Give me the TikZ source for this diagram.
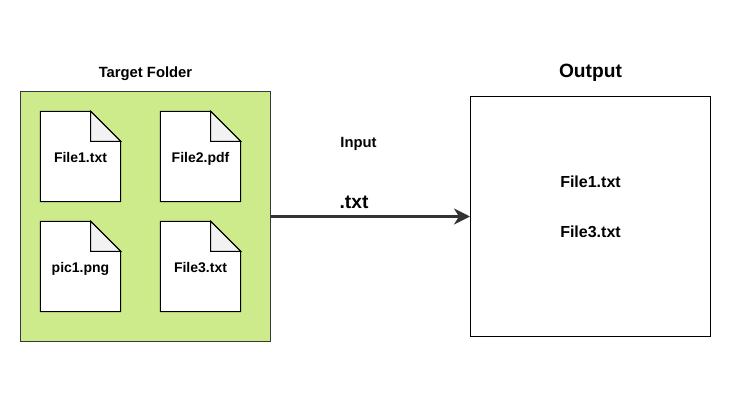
\documentclass[tikz,border=0pt]{standalone}
\usepackage{fontspec}
\setmainfont{Liberation Sans}
\usetikzlibrary{arrows.meta}
\definecolor{foldergreen}{HTML}{CDEB8B}
\definecolor{folderline}{HTML}{36393D}
\definecolor{foldgray}{HTML}{F2F2F2}
\definecolor{arrowgray}{HTML}{333333}
\tikzset{
  x=1pt,y=-1pt,
  lbl/.style={font=\bfseries\fontsize{14}{16}\selectfont,text=black,inner sep=0pt,anchor=base},
  midlbl/.style={lbl,font=\bfseries\fontsize{14.8}{16}\selectfont},
  outlbl/.style={lbl,font=\bfseries\fontsize{16}{18}\selectfont},
  biglbl/.style={lbl,font=\bfseries\fontsize{19.2}{22}\selectfont},
  doc/.style={minimum width=80pt,minimum height=90pt,inner sep=0pt},
  folderbox/.style={draw=folderline,fill=foldergreen,line width=1pt,minimum size=250pt,inner sep=0pt},
  outbox/.style={draw=black,fill=white,line width=1pt,minimum size=240pt,inner sep=0pt},
  conn/.style={draw=arrowgray,line width=3pt,-{Stealth[length=16pt,width=16pt,inset=5pt]}},
}
\newcommand{\docshape}[1]{%
  \path[draw=black,fill=white,line width=1pt,line join=miter]
    (#1.south west) -- (#1.north west) -- ([xshift=-30pt]#1.north east)
    -- ([yshift=-30pt]#1.north east) -- (#1.south east) -- cycle;
  \path[draw=black,fill=foldgray,line width=1pt,line join=miter]
    ([xshift=-30pt]#1.north east) -- ([xshift=-30pt,yshift=-30pt]#1.north east)
    -- ([yshift=-30pt]#1.north east) -- cycle;
}
\begin{document}
\begin{tikzpicture}
\useasboundingbox (0,0) rectangle (729,409);
\fill[white] (0,0) rectangle (729,409);
\node[folderbox] (folder) at (145.5,216.5) {};
\node[outbox] (output) at (590.5,216.5) {};
\node[doc] (f1) at (80.5,156.5) {};
\node[doc] (f2) at (200.5,156.5) {};
\node[doc] (f3) at (80.5,266.5) {};
\node[doc] (f4) at (200.5,266.5) {};
\docshape{f1}\docshape{f2}\docshape{f3}\docshape{f4}
\node[lbl] (t1) at (80.5,162.5) {File1.txt};
\node[lbl] (t2) at (200.5,162.5) {File2.pdf};
\node[lbl] (t3) at (80.5,272.5) {pic1.png};
\node[lbl] (t4) at (200.5,272.5) {File3.txt};
\node[midlbl] (title) at (145.5,77.5) {Target Folder};
\node[biglbl] (outtitle) at (590.5,78) {Output};
\node[outlbl] (o1) at (590.5,187.5) {File1.txt};
\node[outlbl] (o3) at (590.5,237) {File3.txt};
\node[midlbl] (input) at (358.5,147.5) {Input};
\node[biglbl] (ext) at (354,208) {.txt};
\draw[conn] (folder.east) -- (output.west);
\end{tikzpicture}
\end{document}
